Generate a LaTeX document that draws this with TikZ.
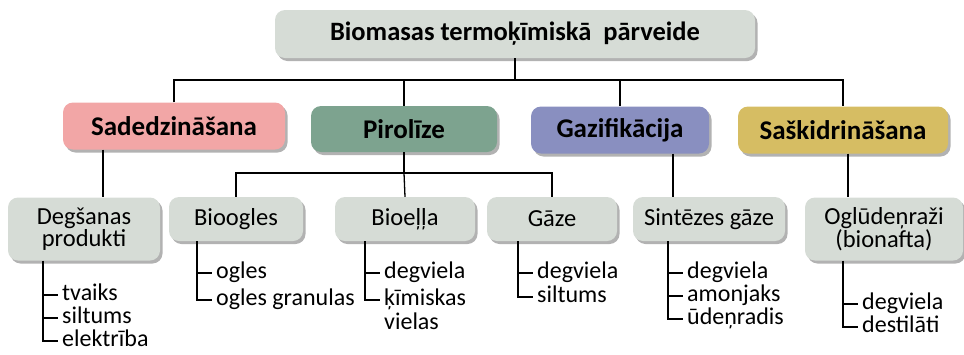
\documentclass[tikz,border=0pt]{standalone}
\usepackage{fontspec}
\setmainfont{Carlito}
\usetikzlibrary{shadows}

\definecolor{boxgray}{RGB}{214,220,214}
\definecolor{sadred}{RGB}{242,166,166}
\definecolor{pirgreen}{RGB}{125,163,143}
\definecolor{gazblue}{RGB}{137,143,192}
\definecolor{sasyellow}{RGB}{214,189,99}

\tikzset{
  box/.style={rounded corners=10pt, fill=boxgray, align=center, inner sep=0pt,
    drop shadow={shadow xshift=2.5pt, shadow yshift=-3pt, fill=black!60}},
  headbox/.style={box, font=\fontsize{27}{27}\selectfont\bfseries, minimum height=47pt},
  subbox/.style={box, font=\fontsize{24.5}{22.5}\selectfont},
  item/.style={anchor=west, inner xsep=4pt, inner ysep=0pt, text height=11pt,
    text depth=0pt, font=\fontsize{24}{24}\selectfont},
  link/.style={line width=1.3pt}
}

\begin{document}
\begin{tikzpicture}[x=1pt, y=-1pt]
\useasboundingbox (0,0) rectangle (964,354);

% galvenais bloks
\node[headbox, font=\fontsize{26.5}{27}\selectfont\bfseries, minimum width=480pt, minimum height=48pt] (top) at (515,34) {Biomasas termoķīmiskā\ \ pārveide};

% procesi
\node[headbox, fill=sadred, minimum width=222pt] (sad) at (174,126) {Sadedzināšana};
\node[headbox, fill=pirgreen, minimum width=186pt, minimum height=46pt] (pir) at (404,129) {Pirolīze};
\node[headbox, fill=gazblue, minimum width=178pt] (gaz) at (620,130) {Gazifikācija};
\node[headbox, fill=sasyellow, minimum width=210pt] (sas) at (843,130) {Saškidrināšana};

% produkti
\node[subbox, minimum width=152pt, minimum height=63pt] (deg) at (84,229) {Degšanas\\produkti};
\node[subbox, minimum width=134pt, minimum height=44pt] (bio) at (236,219) {Bioogles};
\node[subbox, minimum width=140pt, minimum height=44pt] (bioe) at (405,219) {Bioeļļa};
\node[subbox, minimum width=130pt, minimum height=44pt] (gaze) at (552,219) {Gāze};
\node[subbox, minimum width=152pt, minimum height=44pt] (sint) at (709,219) {Sintēzes gāze};
\node[subbox, minimum width=158pt, minimum height=63pt] (ogl) at (884,229) {Oglūdeņraži\\(bionafta)};

% savienojumi no galvenā bloka
\coordinate (bus) at (515,80);
\draw[link] (top.south) -- (bus);
\draw[link] (sad.north) |- (bus) -| (sas.north);
\draw[link] (bus -| pir.north) -- (pir.north);
\draw[link] (bus -| gaz.north) -- (gaz.north);

% savienojumi uz produktiem
\coordinate (c1) at (103,0);
\draw[link] (c1 |- sad.south) -- (c1 |- deg.north);
\coordinate (pbus) at (404,173);
\draw[link] (pir.south) -- (pbus);
\draw[link] (bio.north) |- (pbus) -| (gaze.north);
\draw[link] (pbus) -- (bioe.north);
\coordinate (c2) at (673,0);
\draw[link] (c2 |- gaz.south) -- (c2 |- sint.north);
\coordinate (c3) at (848,0);
\draw[link] (c3 |- sas.south) -- (c3 |- ogl.north);

% Degšanas produkti
\node[item] (d1) at (58,295) {tvaiks};
\node[item] (d2) at (58,318) {siltums};
\node[item] (d3) at (58,341) {elektrība};
\coordinate (dl) at (43,0);
\draw[link] (dl |- deg.south) |- (d3.west);
\draw[link] (dl |- d1.west) -- (d1.west);
\draw[link] (dl |- d2.west) -- (d2.west);

% Bioogles
\node[item] (b1) at (212,273) {ogles};
\node[item] (b2) at (212,300) {ogles granulas};
\coordinate (bl) at (197,0);
\draw[link] (bl |- bio.south) |- (b2.west);
\draw[link] (bl |- b1.west) -- (b1.west);

% Bioeļļa
\node[item] (e1) at (380,273) {degviela};
\node[item] (e2) at (380,300) {ķīmiskas};
\node[item] (e3) at (380,324) {vielas};
\coordinate (el) at (365,0);
\draw[link] (el |- bioe.south) |- (e2.west);
\draw[link] (el |- e1.west) -- (e1.west);

% Gāze
\node[item] (g1) at (533,273) {degviela};
\node[item] (g2) at (533,297) {siltums};
\coordinate (gl) at (518,0);
\draw[link] (gl |- gaze.south) |- (g2.west);
\draw[link] (gl |- g1.west) -- (g1.west);

% Sintēzes gāze
\node[item] (s1) at (683,273) {degviela};
\node[item] (s2) at (683,296) {amonjaks};
\node[item] (s3) at (683,319) {ūdeņradis};
\coordinate (sl) at (668,0);
\draw[link] (sl |- sint.south) |- (s3.west);
\draw[link] (sl |- s1.west) -- (s1.west);
\draw[link] (sl |- s2.west) -- (s2.west);

% Oglūdeņraži
\node[item] (o1) at (858,304) {degviela};
\node[item] (o2) at (858,327) {destilāti};
\coordinate (ol) at (843,0);
\draw[link] (ol |- ogl.south) |- (o2.west);
\draw[link] (ol |- o1.west) -- (o1.west);
\end{tikzpicture}
\end{document}
